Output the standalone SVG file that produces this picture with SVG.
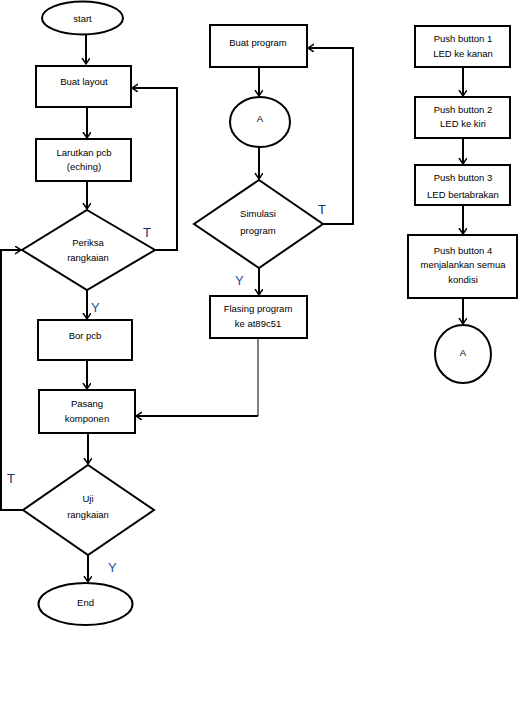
<svg xmlns="http://www.w3.org/2000/svg" width="520" height="702" viewBox="0 0 520 702">
<defs>
<marker id="arr" markerUnits="userSpaceOnUse" markerWidth="10" markerHeight="10" refX="6" refY="4" orient="auto">
<path d="M0,0 L6,4 L0,8" fill="none" stroke="#000" stroke-width="1.5"/>
</marker>
<style>
.n{fill:#fff;stroke:#000;stroke-width:2}
.t{font-family:"Liberation Sans",Arial,sans-serif;font-size:9.5px;fill:#000;text-anchor:middle}
.c{fill:none;stroke:#000;stroke-width:2}
.thin{fill:none;stroke:#000;stroke-width:1}
.lt{font-family:"Liberation Sans",Arial,sans-serif;font-size:13px;fill:#1f2f6a}
.ly{font-family:"Liberation Sans",Arial,sans-serif;font-size:13px;fill:#1f4fa0}
</style>
</defs>
<rect width="520" height="702" fill="#fff"/>
<g id="connectors">
<path class="c" d="M86,35 V64" marker-end="url(#arr)"/>
<path class="c" d="M87,107 V138" marker-end="url(#arr)"/>
<path class="c" d="M87,181 V209" marker-end="url(#arr)"/>
<path class="c" d="M87,290 V319" marker-end="url(#arr)"/>
<path class="c" d="M87,360 V389" marker-end="url(#arr)"/>
<path class="c" d="M88,433 V464" marker-end="url(#arr)"/>
<path class="c" d="M88,555 V582" marker-end="url(#arr)"/>
<path class="c" d="M155,250 H177 V88 H132" marker-end="url(#arr)"/>
<path class="c" d="M23,510 H1 V250 H21" marker-end="url(#arr)"/>
<path class="c" d="M259,67 V96" marker-end="url(#arr)"/>
<path class="c" d="M259,147 V179" marker-end="url(#arr)"/>
<path class="c" d="M259,268 V295" marker-end="url(#arr)"/>
<path class="c" d="M323,224 H353 V48 H308" marker-end="url(#arr)"/>
<path class="thin" d="M258,338 V416"/>
<path class="c" d="M258,416 H136" marker-end="url(#arr)"/>
<path class="c" d="M463,67 V96" marker-end="url(#arr)"/>
<path class="c" d="M463,138 V164" marker-end="url(#arr)"/>
<path class="c" d="M463,205 V234" marker-end="url(#arr)"/>
<path class="c" d="M463,298 V324" marker-end="url(#arr)"/>
<text class="lt" x="143" y="237">T</text>
<text class="ly" x="91" y="312">Y</text>
<text class="lt" x="318" y="214">T</text>
<text class="ly" x="235" y="285">Y</text>
<text class="lt" x="7" y="483">T</text>
<text class="ly" x="108" y="572">Y</text>
</g>
<g id="start"><ellipse class="n" cx="82.5" cy="18" rx="40.5" ry="16.5"/><text class="t" x="82.5" y="21.5">start</text></g>
<g id="buat-layout"><rect class="n" x="36" y="66" width="95" height="41"/><text class="t" x="84" y="85">Buat layout</text></g>
<g id="larutkan"><rect class="n" x="36" y="139" width="95" height="42"/><text class="t" x="84" y="155.5">Larutkan pcb</text><text class="t" x="84" y="169.5">(eching)</text></g>
<g id="periksa"><polygon class="n" points="87,210 155,250 87,290 22,250"/><text class="t" x="88" y="245.5">Periksa</text><text class="t" x="88" y="260.5">rangkaian</text></g>
<g id="bor"><rect class="n" x="38" y="320" width="94" height="40"/><text class="t" x="85" y="338.5">Bor pcb</text></g>
<g id="pasang"><rect class="n" x="39" y="390" width="96" height="43"/><text class="t" x="87" y="406.5">Pasang</text><text class="t" x="87" y="421.5">komponen</text></g>
<g id="uji"><polygon class="n" points="88,465 154,510 88,555 23,510"/><text class="t" x="88" y="501.5">Uji</text><text class="t" x="88" y="517.5">rangkaian</text></g>
<g id="end"><ellipse class="n" cx="85.5" cy="604" rx="47" ry="21"/><text class="t" x="85.5" y="605.5">End</text></g>
<g id="buat-program"><rect class="n" x="210" y="25" width="97" height="42"/><text class="t" x="258" y="45.5">Buat program</text></g>
<g id="a-mid"><ellipse class="n" cx="260" cy="122" rx="30" ry="25"/><text class="t" x="260" y="121.5">A</text></g>
<g id="simulasi"><polygon class="n" points="259,180 323,224 259,268 194,224"/><text class="t" x="258" y="216.5">Simulasi</text><text class="t" x="258" y="233.5">program</text></g>
<g id="flasing"><rect class="n" x="210" y="296" width="97" height="42"/><text class="t" x="258" y="312">Flasing program</text><text class="t" x="258" y="327">ke at89c51</text></g>
<g id="pb1"><rect class="n" x="415" y="26" width="95" height="41"/><text class="t" x="463" y="41.5">Push button 1</text><text class="t" x="463" y="56.5">LED ke kanan</text></g>
<g id="pb2"><rect class="n" x="415" y="97" width="95" height="41"/><text class="t" x="463" y="112.5">Push button 2</text><text class="t" x="463" y="126.5">LED ke kiri</text></g>
<g id="pb3"><rect class="n" x="415" y="165" width="95" height="40"/><text class="t" x="463" y="180.5">Push button 3</text><text class="t" x="463" y="197.5">LED bertabrakan</text></g>
<g id="pb4"><rect class="n" x="408" y="235" width="109" height="63"/><text class="t" x="463" y="253.5">Push button 4</text><text class="t" x="463" y="267.5">menjalankan semua</text><text class="t" x="463" y="282.5">kondisi</text></g>
<g id="a-right"><ellipse class="n" cx="463" cy="354" rx="28" ry="29"/><text class="t" x="463" y="355.5">A</text></g>
</svg>
